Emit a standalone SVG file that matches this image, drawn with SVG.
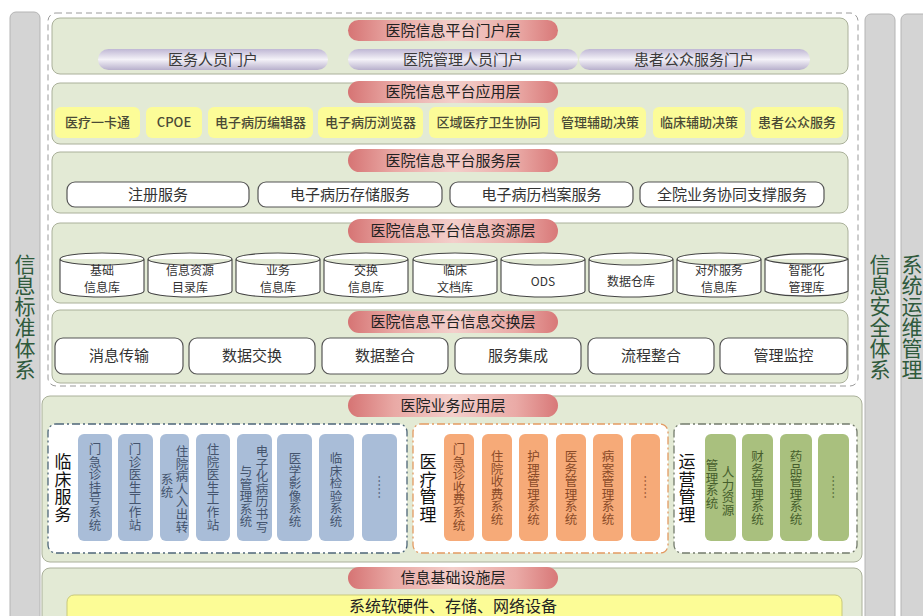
<svg xmlns="http://www.w3.org/2000/svg" width="923" height="616" viewBox="0 0 923 616">
<defs>
<linearGradient id="gRed" x1="0" y1="0" x2="1" y2="0">
<stop offset="0" stop-color="#d67474"/><stop offset="0.22" stop-color="#e9a9a5"/><stop offset="0.5" stop-color="#f3cfcb"/><stop offset="0.8" stop-color="#eaaaa6"/><stop offset="1" stop-color="#d87878"/>
</linearGradient>
<linearGradient id="gLav" x1="0" y1="0" x2="0" y2="1">
<stop offset="0" stop-color="#bfb7d4"/><stop offset="0.5" stop-color="#f4f2f8"/><stop offset="1" stop-color="#b8b0cc"/>
</linearGradient>
<style>
text{font-family:"Noto Sans CJK SC","Liberation Sans",sans-serif}
.side{fill:#d4d4d4;stroke:#b4b4b4;stroke-width:1}
.sidet{font-size:21px;fill:#2f5a3c;text-anchor:middle}
.panel{fill:#e3ead5;stroke:#aab09a;stroke-width:1}
.pill{fill:url(#gRed)}
.pillt{font-size:15px;fill:#222;text-anchor:middle}
.lav{fill:url(#gLav)}
.lavt{font-size:15px;fill:#3a3a3a;text-anchor:middle}
.app{fill:#fcfc98}
.appt{font-size:13px;fill:#4a4a36;text-anchor:middle;font-weight:500}
.box{fill:#fff;stroke:#555;stroke-width:1.2}
.boxt{font-size:15px;fill:#333;text-anchor:middle}
.cyl{fill:#fff;stroke:#444;stroke-width:1.1}
.cylt{font-size:12px;fill:#333;text-anchor:middle}
.grp{fill:#fff;stroke-width:1.3;stroke-dasharray:8 3 2 3}
.glab{font-size:17px;fill:#111;text-anchor:middle}
.vt{font-size:12.5px;text-anchor:middle}
.dots{font-size:12px;text-anchor:middle;dominant-baseline:central}
.blue{fill:#a9bdd8}.bluet{fill:#44546e}
.org{fill:#f6aa78}.orgt{fill:#8a4a28}
.grn{fill:#a9c07e}.grnt{fill:#465e2c}
</style>
</defs>
<rect width="923" height="616" fill="#fff"/>

<g id="std-column">
<rect class="side" x="10" y="12" width="30" height="620" rx="6"/>
<text class="sidet"><tspan x="25" y="272">信</tspan><tspan x="25" dy="21">息</tspan><tspan x="25" dy="21">标</tspan><tspan x="25" dy="21">准</tspan><tspan x="25" dy="21">体</tspan><tspan x="25" dy="21">系</tspan></text>
</g>
<g id="security-column">
<rect class="side" x="865" y="14" width="30" height="620" rx="6"/>
<text class="sidet"><tspan x="880" y="272">信</tspan><tspan x="880" dy="21">息</tspan><tspan x="880" dy="21">安</tspan><tspan x="880" dy="21">全</tspan><tspan x="880" dy="21">体</tspan><tspan x="880" dy="21">系</tspan></text>
</g>
<g id="ops-column">
<rect class="side" x="901" y="14" width="40" height="620" rx="6"/>
<text class="sidet"><tspan x="912" y="272">系</tspan><tspan x="912" dy="21">统</tspan><tspan x="912" dy="21">运</tspan><tspan x="912" dy="21">维</tspan><tspan x="912" dy="21">管</tspan><tspan x="912" dy="21">理</tspan></text>
</g>

<g id="platform-frame">
<rect x="48" y="13" width="810" height="373" rx="8" fill="none" stroke="#9a9a9a" stroke-width="1" stroke-dasharray="6 4"/>
</g>

<g id="portal-layer">
<rect class="panel" x="52" y="18" width="796" height="56" rx="8"/>
<rect class="pill" x="348" y="20" width="210" height="21" rx="10.5"/>
<text class="pillt" x="453" y="36">医院信息平台门户层</text>
<rect class="lav" x="98" y="49" width="230" height="21" rx="10.5"/>
<text class="lavt" x="213" y="65">医务人员门户</text>
<rect class="lav" x="348" y="49" width="230" height="21" rx="10.5"/>
<text class="lavt" x="463" y="65">医院管理人员门户</text>
<rect class="lav" x="579" y="49" width="231" height="21" rx="10.5"/>
<text class="lavt" x="694" y="65">患者公众服务门户</text>
</g>

<g id="application-layer">
<rect class="panel" x="52" y="83" width="796" height="61" rx="8"/>
<rect class="pill" x="348" y="81" width="210" height="22" rx="11"/>
<text class="pillt" x="453" y="97">医院信息平台应用层</text>
<rect class="app" x="55" y="107" width="85" height="31" rx="6"/><text class="appt" x="97.5" y="127">医疗一卡通</text>
<rect class="app" x="146" y="107" width="56" height="31" rx="6"/><text class="appt" x="174" y="127">CPOE</text>
<rect class="app" x="208" y="107" width="105" height="31" rx="6"/><text class="appt" x="260.5" y="127">电子病历编辑器</text>
<rect class="app" x="318" y="107" width="105" height="31" rx="6"/><text class="appt" x="370.5" y="127">电子病历浏览器</text>
<rect class="app" x="429" y="107" width="119" height="31" rx="6"/><text class="appt" x="488.5" y="127">区域医疗卫生协同</text>
<rect class="app" x="554" y="107" width="92" height="31" rx="6"/><text class="appt" x="600" y="127">管理辅助决策</text>
<rect class="app" x="653" y="107" width="92" height="31" rx="6"/><text class="appt" x="699" y="127">临床辅助决策</text>
<rect class="app" x="751" y="107" width="92" height="31" rx="6"/><text class="appt" x="797" y="127">患者公众服务</text>
</g>

<g id="service-layer">
<rect class="panel" x="52" y="152" width="796" height="61" rx="8"/>
<rect class="pill" x="348" y="149" width="210" height="23" rx="11.5"/>
<text class="pillt" x="453" y="166">医院信息平台服务层</text>
<rect class="box" x="67" y="182" width="182" height="25" rx="8"/><text class="boxt" x="158" y="200">注册服务</text>
<rect class="box" x="258" y="182" width="184" height="25" rx="8"/><text class="boxt" x="350" y="200">电子病历存储服务</text>
<rect class="box" x="450" y="182" width="183" height="25" rx="8"/><text class="boxt" x="541.5" y="200">电子病历档案服务</text>
<rect class="box" x="640" y="182" width="184" height="25" rx="8"/><text class="boxt" x="732" y="200">全院业务协同支撑服务</text>
</g>

<g id="resource-layer">
<rect class="panel" x="52" y="223" width="796" height="80" rx="8"/>
<rect class="pill" x="348" y="219" width="210" height="24" rx="12"/>
<text class="pillt" x="453" y="236">医院信息平台信息资源层</text>
<g id="db-1"><path class="cyl" d="M60,259 A42,6 0 0 1 144,259 L144,291 A42,6 0 0 1 60,291 Z M60,259 A42,6 0 0 0 144,259"/><text class="cylt" x="102" y="275">基础</text><text class="cylt" x="102" y="292">信息库</text></g>
<g id="db-2"><path class="cyl" d="M148,259 A42,6 0 0 1 232,259 L232,291 A42,6 0 0 1 148,291 Z M148,259 A42,6 0 0 0 232,259"/><text class="cylt" x="190" y="275">信息资源</text><text class="cylt" x="190" y="292">目录库</text></g>
<g id="db-3"><path class="cyl" d="M236,259 A42,6 0 0 1 320,259 L320,291 A42,6 0 0 1 236,291 Z M236,259 A42,6 0 0 0 320,259"/><text class="cylt" x="278" y="275">业务</text><text class="cylt" x="278" y="292">信息库</text></g>
<g id="db-4"><path class="cyl" d="M324,259 A42,6 0 0 1 408,259 L408,291 A42,6 0 0 1 324,291 Z M324,259 A42,6 0 0 0 408,259"/><text class="cylt" x="366" y="275">交换</text><text class="cylt" x="366" y="292">信息库</text></g>
<g id="db-5"><path class="cyl" d="M413,259 A42,6 0 0 1 497,259 L497,291 A42,6 0 0 1 413,291 Z M413,259 A42,6 0 0 0 497,259"/><text class="cylt" x="455" y="275">临床</text><text class="cylt" x="455" y="292">文档库</text></g>
<g id="db-6"><path class="cyl" d="M501,259 A42,6 0 0 1 585,259 L585,291 A42,6 0 0 1 501,291 Z M501,259 A42,6 0 0 0 585,259"/><text class="cylt" x="543" y="286">ODS</text></g>
<g id="db-7"><path class="cyl" d="M589,259 A42,6 0 0 1 673,259 L673,291 A42,6 0 0 1 589,291 Z M589,259 A42,6 0 0 0 673,259"/><text class="cylt" x="631" y="286">数据仓库</text></g>
<g id="db-8"><path class="cyl" d="M677,259 A42,6 0 0 1 761,259 L761,291 A42,6 0 0 1 677,291 Z M677,259 A42,6 0 0 0 761,259"/><text class="cylt" x="719" y="275">对外服务</text><text class="cylt" x="719" y="292">信息库</text></g>
<g id="db-9"><path class="cyl" d="M765,259 A42,6 0 0 1 848,259 L848,291 A42,6 0 0 1 765,291 Z M765,259 A42,6 0 0 0 848,259"/><text class="cylt" x="806.5" y="275">智能化</text><text class="cylt" x="806.5" y="292">管理库</text></g>
</g>

<g id="exchange-layer">
<rect class="panel" x="52" y="310" width="796" height="73" rx="8"/>
<rect class="pill" x="348" y="311" width="210" height="22" rx="11"/>
<text class="pillt" x="453" y="327">医院信息平台信息交换层</text>
<rect class="box" x="55" y="338" width="128" height="36" rx="8"/><text class="boxt" x="119" y="361">消息传输</text>
<rect class="box" x="189" y="338" width="126" height="36" rx="8"/><text class="boxt" x="252" y="361">数据交换</text>
<rect class="box" x="322" y="338" width="126" height="36" rx="8"/><text class="boxt" x="385" y="361">数据整合</text>
<rect class="box" x="455" y="338" width="126" height="36" rx="8"/><text class="boxt" x="518" y="361">服务集成</text>
<rect class="box" x="588" y="338" width="126" height="36" rx="8"/><text class="boxt" x="651" y="361">流程整合</text>
<rect class="box" x="720" y="338" width="127" height="36" rx="8"/><text class="boxt" x="783.5" y="361">管理监控</text>
</g>

<g id="business-layer">
<rect class="panel" x="42" y="396" width="820" height="166" rx="8"/>
<rect class="pill" x="348" y="394" width="210" height="23" rx="11.5"/>
<text class="pillt" x="453" y="411">医院业务应用层</text>

<g id="clinical">
<rect class="grp" x="48" y="424" width="359" height="129" rx="8" stroke="#4d6678"/>
<text class="glab"><tspan x="63" y="468">临</tspan><tspan x="63" dy="17.5">床</tspan><tspan x="63" dy="17.5">服</tspan><tspan x="63" dy="17.5">务</tspan></text>
<rect class="blue" x="78" y="434" width="34" height="107" rx="6"/>
<text class="vt bluet"><tspan x="95" y="454">门</tspan><tspan x="95" dy="12.6">急</tspan><tspan x="95" dy="12.6">诊</tspan><tspan x="95" dy="12.6">挂</tspan><tspan x="95" dy="12.6">号</tspan><tspan x="95" dy="12.6">系</tspan><tspan x="95" dy="12.6">统</tspan></text>
<rect class="blue" x="118" y="434" width="35" height="107" rx="6"/>
<text class="vt bluet"><tspan x="135" y="454">门</tspan><tspan x="135" dy="12.6">诊</tspan><tspan x="135" dy="12.6">医</tspan><tspan x="135" dy="12.6">生</tspan><tspan x="135" dy="12.6">工</tspan><tspan x="135" dy="12.6">作</tspan><tspan x="135" dy="12.6">站</tspan></text>
<rect class="blue" x="160" y="434" width="29" height="107" rx="6"/>
<text class="vt bluet"><tspan x="182" y="456">住</tspan><tspan x="182" dy="12.6">院</tspan><tspan x="182" dy="12.6">病</tspan><tspan x="182" dy="12.6">人</tspan><tspan x="182" dy="12.6">入</tspan><tspan x="182" dy="12.6">出</tspan><tspan x="182" dy="12.6">转</tspan></text>
<text class="vt bluet"><tspan x="167" y="484">系</tspan><tspan x="167" dy="12.6">统</tspan></text>
<rect class="blue" x="196" y="434" width="34" height="107" rx="6"/>
<text class="vt bluet"><tspan x="213" y="454">住</tspan><tspan x="213" dy="12.6">院</tspan><tspan x="213" dy="12.6">医</tspan><tspan x="213" dy="12.6">生</tspan><tspan x="213" dy="12.6">工</tspan><tspan x="213" dy="12.6">作</tspan><tspan x="213" dy="12.6">站</tspan></text>
<rect class="blue" x="237" y="434" width="35" height="107" rx="6"/>
<text class="vt bluet"><tspan x="262" y="456">电</tspan><tspan x="262" dy="12.6">子</tspan><tspan x="262" dy="12.6">化</tspan><tspan x="262" dy="12.6">病</tspan><tspan x="262" dy="12.6">历</tspan><tspan x="262" dy="12.6">书</tspan><tspan x="262" dy="12.6">写</tspan></text>
<text class="vt bluet"><tspan x="246" y="476">与</tspan><tspan x="246" dy="12.6">管</tspan><tspan x="246" dy="12.6">理</tspan><tspan x="246" dy="12.6">系</tspan><tspan x="246" dy="12.6">统</tspan></text>
<rect class="blue" x="277" y="434" width="35" height="107" rx="6"/>
<text class="vt bluet"><tspan x="295" y="463">医</tspan><tspan x="295" dy="12.6">学</tspan><tspan x="295" dy="12.6">影</tspan><tspan x="295" dy="12.6">像</tspan><tspan x="295" dy="12.6">系</tspan><tspan x="295" dy="12.6">统</tspan></text>
<rect class="blue" x="319" y="434" width="35" height="107" rx="6"/>
<text class="vt bluet"><tspan x="336" y="463">临</tspan><tspan x="336" dy="12.6">床</tspan><tspan x="336" dy="12.6">检</tspan><tspan x="336" dy="12.6">验</tspan><tspan x="336" dy="12.6">系</tspan><tspan x="336" dy="12.6">统</tspan></text>
<rect class="blue" x="362" y="434" width="35" height="107" rx="6"/>
<text class="dots bluet" x="379" y="487" transform="rotate(90 379 487)">……</text>
</g>

<g id="medical-mgmt">
<rect class="grp" x="413" y="424" width="255" height="129" rx="8" stroke="#e39a62"/>
<text class="glab"><tspan x="428" y="468">医</tspan><tspan x="428" dy="17.5">疗</tspan><tspan x="428" dy="17.5">管</tspan><tspan x="428" dy="17.5">理</tspan></text>
<rect class="org" x="444" y="434" width="30" height="107" rx="6"/>
<text class="vt orgt"><tspan x="459" y="454">门</tspan><tspan x="459" dy="12.6">急</tspan><tspan x="459" dy="12.6">诊</tspan><tspan x="459" dy="12.6">收</tspan><tspan x="459" dy="12.6">费</tspan><tspan x="459" dy="12.6">系</tspan><tspan x="459" dy="12.6">统</tspan></text>
<rect class="org" x="482" y="434" width="30" height="107" rx="6"/>
<text class="vt orgt"><tspan x="497" y="461">住</tspan><tspan x="497" dy="12.6">院</tspan><tspan x="497" dy="12.6">收</tspan><tspan x="497" dy="12.6">费</tspan><tspan x="497" dy="12.6">系</tspan><tspan x="497" dy="12.6">统</tspan></text>
<rect class="org" x="519" y="434" width="29" height="107" rx="6"/>
<text class="vt orgt"><tspan x="533.5" y="461">护</tspan><tspan x="533.5" dy="12.6">理</tspan><tspan x="533.5" dy="12.6">管</tspan><tspan x="533.5" dy="12.6">理</tspan><tspan x="533.5" dy="12.6">系</tspan><tspan x="533.5" dy="12.6">统</tspan></text>
<rect class="org" x="556" y="434" width="30" height="107" rx="6"/>
<text class="vt orgt"><tspan x="571" y="461">医</tspan><tspan x="571" dy="12.6">务</tspan><tspan x="571" dy="12.6">管</tspan><tspan x="571" dy="12.6">理</tspan><tspan x="571" dy="12.6">系</tspan><tspan x="571" dy="12.6">统</tspan></text>
<rect class="org" x="593" y="434" width="30" height="107" rx="6"/>
<text class="vt orgt"><tspan x="608" y="461">病</tspan><tspan x="608" dy="12.6">案</tspan><tspan x="608" dy="12.6">管</tspan><tspan x="608" dy="12.6">理</tspan><tspan x="608" dy="12.6">系</tspan><tspan x="608" dy="12.6">统</tspan></text>
<rect class="org" x="631" y="434" width="29" height="107" rx="6"/>
<text class="dots orgt" x="645.5" y="487" transform="rotate(90 645.5 487)">……</text>
</g>

<g id="operation-mgmt">
<rect class="grp" x="674" y="424" width="183" height="129" rx="8" stroke="#737b6c"/>
<text class="glab"><tspan x="687" y="468">运</tspan><tspan x="687" dy="17.5">营</tspan><tspan x="687" dy="17.5">管</tspan><tspan x="687" dy="17.5">理</tspan></text>
<rect class="grn" x="705" y="434" width="31" height="107" rx="6"/>
<text class="vt grnt"><tspan x="728" y="477">人</tspan><tspan x="728" dy="12.6">力</tspan><tspan x="728" dy="12.6">资</tspan><tspan x="728" dy="12.6">源</tspan></text>
<text class="vt grnt"><tspan x="712" y="470">管</tspan><tspan x="712" dy="12.6">理</tspan><tspan x="712" dy="12.6">系</tspan><tspan x="712" dy="12.6">统</tspan></text>
<rect class="grn" x="742" y="434" width="31" height="107" rx="6"/>
<text class="vt grnt"><tspan x="757.5" y="461">财</tspan><tspan x="757.5" dy="12.6">务</tspan><tspan x="757.5" dy="12.6">管</tspan><tspan x="757.5" dy="12.6">理</tspan><tspan x="757.5" dy="12.6">系</tspan><tspan x="757.5" dy="12.6">统</tspan></text>
<rect class="grn" x="780" y="434" width="32" height="107" rx="6"/>
<text class="vt grnt"><tspan x="796" y="461">药</tspan><tspan x="796" dy="12.6">品</tspan><tspan x="796" dy="12.6">管</tspan><tspan x="796" dy="12.6">理</tspan><tspan x="796" dy="12.6">系</tspan><tspan x="796" dy="12.6">统</tspan></text>
<rect class="grn" x="818" y="434" width="31" height="107" rx="6"/>
<text class="dots grnt" x="833.5" y="487" transform="rotate(90 833.5 487)">……</text>
</g>
</g>

<g id="infrastructure-layer">
<rect class="panel" x="42" y="568" width="820" height="70" rx="8"/>
<rect class="pill" x="348" y="567" width="210" height="22" rx="11"/>
<text class="pillt" x="453" y="583">信息基础设施层</text>
<rect x="67" y="595" width="775" height="40" rx="7" fill="#fcfc96" stroke="#c9c97a" stroke-width="1"/>
<text class="boxt" x="453" y="612" style="font-size:16px;fill:#222">系统软硬件、存储、网络设备</text>
</g>

<g id="connectors"></g>
</svg>
